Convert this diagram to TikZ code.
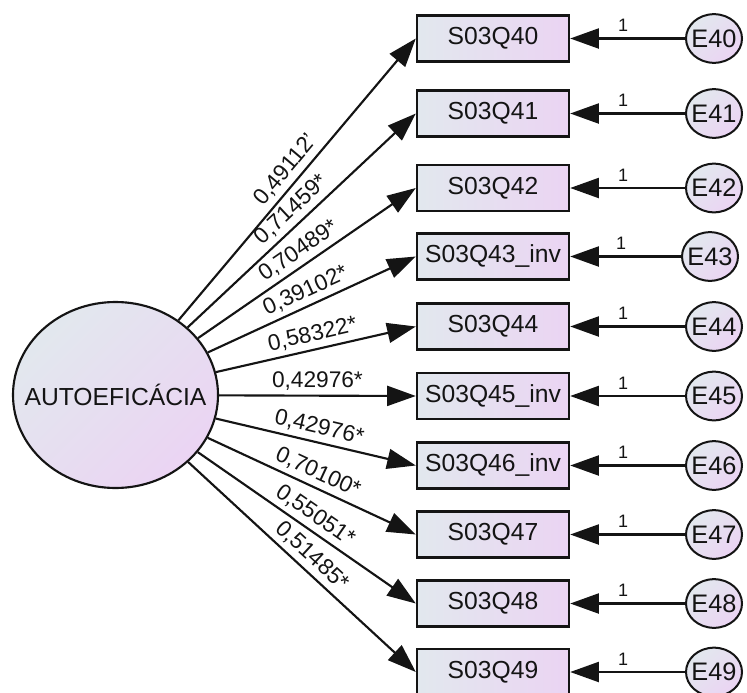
\documentclass[tikz,border=0pt]{standalone}
\usepackage{fontspec}
\setmainfont{Liberation Sans}
\usetikzlibrary{arrows.meta,shapes.geometric}

\definecolor{fillA}{RGB}{226,232,238}
\definecolor{fillB}{RGB}{235,212,243}
\definecolor{ink}{RGB}{20,20,20}

\begin{document}
\begin{tikzpicture}[x=0.75pt,y=-0.75pt,
  obsbox/.style={draw=ink,line width=1.8pt,minimum width=114pt,minimum height=34.5pt,
    inner sep=0pt,left color=fillA,right color=fillB,text=ink,
    font=\fontsize{18.5}{20}\selectfont},
  errnode/.style={ellipse,draw=ink,line width=1.5pt,minimum width=42pt,minimum height=36.5pt,
    inner sep=0pt,left color=fillA,right color=fillB,shading angle=45,text=ink,
    font=\fontsize{19}{20}\selectfont},
  latent/.style={ellipse,draw=ink,line width=1.6pt,minimum width=153.75pt,minimum height=139.5pt,
    inner sep=0pt,left color=fillA,right color=fillB,shading angle=45,text=ink,
    font=\fontsize{18.5}{20}\selectfont},
  loading/.style={draw=ink,line width=1.6pt,-{Triangle[length=21.5pt,width=15pt]}},
  coef/.style={sloped,above,pos=0.5,text=ink,font=\fontsize{17}{18}\selectfont},
  fixone/.style={above=1pt,pos=0.54,text=ink,font=\fontsize{13.5}{14}\selectfont}
]
\useasboundingbox (0,0) rectangle (747,693);

% latent factor (text boxed at zero width so the ellipse keeps its set size)
\node[latent] (f) at (115.5,395) {\makebox[0pt]{AUTOEFICÁCIA}};

% observed indicators
\node[obsbox] (v40) at (493,38.5)  {S03Q40};
\node[obsbox] (v41) at (493,113.5) {S03Q41};
\node[obsbox] (v42) at (493,188)   {S03Q42};
\node[obsbox] (v43) at (493,256.5) {S03Q43\_inv};
\node[obsbox] (v44) at (493,326.5) {S03Q44};
\node[obsbox] (v45) at (493,396)   {S03Q45\_inv};
\node[obsbox] (v46) at (493,465.5) {S03Q46\_inv};
\node[obsbox] (v47) at (493,534.5) {S03Q47};
\node[obsbox] (v48) at (493,603.5) {S03Q48};
\node[obsbox] (v49) at (493,672)   {S03Q49};

% error terms
\foreach \i/\x/\y in {40/714/38.5, 41/714/113.5, 42/714/188, 43/710/256.5, 44/714/326.5,
                      45/714/396, 46/714/465.5, 47/714/534.5, 48/714/603.5, 49/714/672}{
  \node[errnode] (e\i) at (\x,\y) {\makebox[0pt]{E\i}};
}

% factor loadings
\draw[loading] (f) -- node[coef]{0,49112'} (v40.west);
\draw[loading] (f) -- node[coef]{0,71459*} (v41.west);
\draw[loading] (f) -- node[coef]{0,70489*} (v42.west);
\draw[loading] (f) -- node[coef]{0,39102*} (v43.west);
\draw[loading] (f) -- node[coef]{0,58322*} (v44.west);
\draw[loading] (f) -- node[coef]{0,42976*} (v45.west);
\draw[loading] (f) -- node[coef]{0,42976*} (v46.west);
\draw[loading] (f) -- node[coef]{0,70100*} (v47.west);
\draw[loading] (f) -- node[coef]{0,55051*} (v48.west);
\draw[loading] (f) -- node[coef]{0,51485*} (v49.west);

% error paths fixed to 1
\foreach \i in {40,...,49}{
  \draw[loading] (e\i) -- node[fixone]{1} (v\i.east);
}
\end{tikzpicture}
\end{document}
